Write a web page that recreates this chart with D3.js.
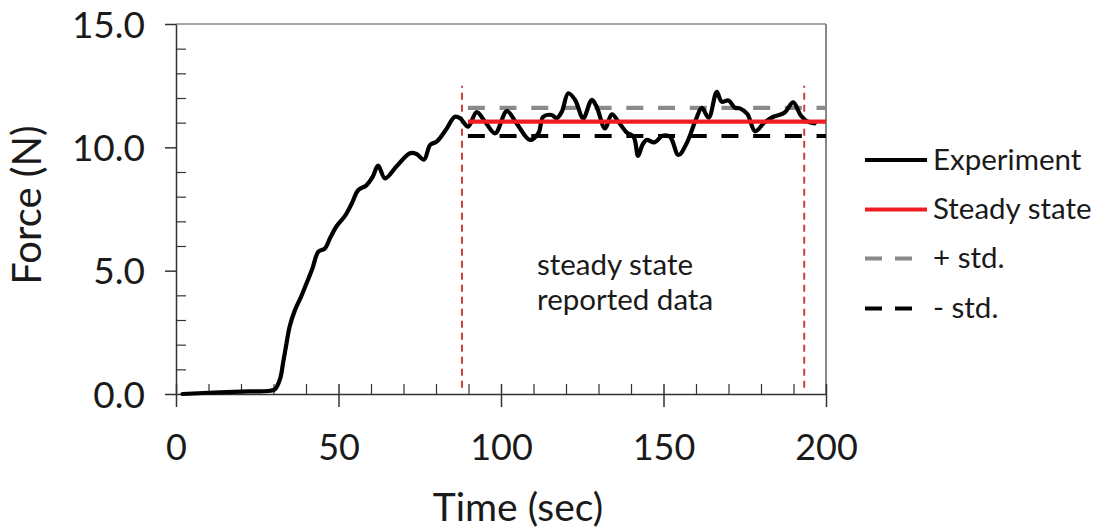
<!DOCTYPE html>
<html>
<head>
<meta charset="utf-8">
<script src="https://cdn.jsdelivr.net/npm/d3@7"></script>
<style>
  html, body { margin: 0; padding: 0; background: #fff; }
  svg { display: block; font-family: Lato, "Open Sans", sans-serif; }
</style>
</head>
<body>
<svg id="chart" width="1102" height="529"></svg>
<script>
// ---- data ----
const timeSec = [2, 10, 20, 29, 30.5, 32, 33, 34, 35, 36.6, 38.5, 40.2, 42, 43.8, 45.8, 47.5, 49.4, 52, 54, 56.1, 58.5, 60.5, 62.2, 64.3, 68, 72, 74, 76.3, 78.2, 80.2, 83, 85.8, 87.4, 89.9, 92.5, 95.1, 98.2, 101.8, 104.8, 108.9, 111.5, 113, 115.6, 117.1, 118.7, 120.7, 122.8, 125.3, 127.9, 129.4, 132, 134.1, 136.1, 138.7, 140.8, 142.2, 143.5, 144.8, 147.2, 149.7, 152, 154.6, 157.1, 159.9, 161.8, 163.9, 166.4, 167.9, 170, 172, 173.5, 175.8, 178.2, 181, 183.8, 187.2, 189.9, 192.2, 194.2, 196.5];
const forceN = [0, 0.05, 0.1, 0.13, 0.2, 0.6, 1.3, 2.05, 2.75, 3.4, 3.95, 4.5, 5.1, 5.77, 5.9, 6.35, 6.8, 7.22, 7.7, 8.27, 8.45, 8.8, 9.26, 8.74, 9.25, 9.76, 9.73, 9.5, 10.1, 10.23, 10.7, 11.24, 11.18, 10.84, 11.43, 11.04, 10.57, 11.47, 10.97, 10.3, 10.57, 11.24, 11.31, 11.18, 11.44, 12.19, 11.92, 11.18, 11.92, 11.65, 10.77, 11.34, 11.04, 10.6, 10.43, 9.65, 10.1, 10.3, 10.2, 10.47, 10.43, 9.69, 10.16, 11.1, 11.6, 11.2, 12.25, 11.85, 11.9, 11.6, 11.58, 11.35, 10.65, 11.0, 11.24, 11.4, 11.82, 11.3, 11.05, 10.97];

const steadyRange = [89.8, 200];
const steadyMean = 11.04;
const stdPlus = 11.6;
const stdMinus = 10.46;
const windowBounds = [88, 193.3];
const windowSpan = [0.25, 12.5];

const xMajorTicks = [0, 50, 100, 150, 200];
const xMinorTicks = [10, 20, 30, 40, 60, 70, 80, 90, 110, 120, 130, 140, 160, 170, 180, 190];
const yMajorTicks = [0, 5, 10, 15];
const yMinorTicks = [1, 2, 3, 4, 6, 7, 8, 9, 11, 12, 13, 14];

const legendLabels = ["Experiment", "Steady state", "+ std.", "- std."];
const annotationLines = ["steady state", "reported data"];

// ---- layout ----
const svg = d3.select("#chart");
const x = d3.scaleLinear().domain([0, 200]).range([176, 826]);
const y = d3.scaleLinear().domain([0, 15]).range([394, 24]);
const TXT = "#1a1a1a";

// plot frame (top/right gray)
svg.append("line").attr("x1", x(0)).attr("x2", x(200)).attr("y1", y(15)).attr("y2", y(15))
  .attr("stroke", "#878787").attr("stroke-width", 1.5);
svg.append("line").attr("x1", x(200)).attr("x2", x(200)).attr("y1", y(15)).attr("y2", y(0))
  .attr("stroke", "#878787").attr("stroke-width", 2);

// x minor ticks (inside)
const gxMinor = svg.append("g").attr("transform", `translate(0,${y(0)})`)
  .call(d3.axisBottom(x).tickValues(xMinorTicks).tickSize(-10).tickSizeOuter(0).tickFormat(""));
gxMinor.select(".domain").remove();
gxMinor.selectAll("line").attr("stroke", "#333").attr("stroke-width", 1.2);

// x major
const gx = svg.append("g").attr("transform", `translate(0,${y(0)})`)
  .call(d3.axisBottom(x).tickValues(xMajorTicks).tickSize(13).tickSizeOuter(0).tickFormat(d3.format("d")));
gx.select(".domain").attr("stroke", "#333").attr("stroke-width", 1.5);
gx.selectAll(".tick line").attr("y1", -10).attr("stroke", "#333").attr("stroke-width", 1.5);
gx.selectAll(".tick text").attr("y", 66).attr("dy", null)
  .attr("font-size", 36).attr("fill", TXT).attr("font-family", "Lato, 'Open Sans', sans-serif");

// y minor
const gyMinor = svg.append("g").attr("transform", `translate(${x(0)},0)`)
  .call(d3.axisLeft(y).tickValues(yMinorTicks).tickSize(-10).tickSizeOuter(0).tickFormat(""));
gyMinor.select(".domain").remove();
gyMinor.selectAll("line").attr("stroke", "#333").attr("stroke-width", 1.2);

// y major
const gy = svg.append("g").attr("transform", `translate(${x(0)},0)`)
  .call(d3.axisLeft(y).tickValues(yMajorTicks).tickSize(11).tickSizeOuter(0).tickFormat(d3.format(".1f")));
gy.select(".domain").attr("stroke", "#333").attr("stroke-width", 1.5);
gy.selectAll(".tick line").attr("stroke", "#333").attr("stroke-width", 1.5);
gy.selectAll(".tick text").attr("x", -31).attr("dy", "0.36em")
  .attr("font-size", 37).attr("fill", TXT).attr("font-family", "Lato, 'Open Sans', sans-serif");

// axis titles
svg.append("text").attr("x", 518).attr("y", 521).attr("text-anchor", "middle")
  .attr("font-size", 39).attr("fill", TXT).text("Time (sec)");
svg.append("text").attr("transform", "translate(41,205) rotate(-90)").attr("text-anchor", "middle")
  .attr("font-size", 40).attr("fill", TXT).text("Force (N)");

// steady-state window bounds
windowBounds.forEach(t => {
  svg.append("line").attr("x1", x(t)).attr("x2", x(t))
    .attr("y1", y(windowSpan[0])).attr("y2", y(windowSpan[1]))
    .attr("stroke", "#c9403e").attr("stroke-width", 2).attr("stroke-dasharray", "7,5");
});

// std lines
const hline = (v, color, dash) => svg.append("line")
  .attr("x1", x(steadyRange[0])).attr("x2", x(steadyRange[1]))
  .attr("y1", y(v)).attr("y2", y(v))
  .attr("stroke", color).attr("stroke-width", 4.2)
  .attr("stroke-dasharray", dash);
hline(stdPlus, "#8a8a8a", "17,14.7");
hline(stdMinus, "#000", "17,14.7");

// experiment curve
const pts = timeSec.map((t, i) => [t, forceN[i]]);
const line = d3.line().x(d => x(d[0])).y(d => y(d[1])).curve(d3.curveCatmullRom.alpha(0.5));
svg.append("path").datum(pts).attr("d", line)
  .attr("fill", "none").attr("stroke", "#000").attr("stroke-width", 4.2)
  .attr("stroke-linejoin", "round").attr("stroke-linecap", "round");

// steady state mean
hline(steadyMean, "#f01c24", null);

// annotation
svg.append("text").attr("x", 537).attr("y", 275).attr("font-size", 29.5).attr("fill", TXT)
  .selectAll("tspan").data(annotationLines).join("tspan")
  .attr("x", 537).attr("dy", (d, i) => i === 0 ? 0 : 35).text(d => d);

// legend
const legendStyles = [
  { color: "#000", dash: null, end: 927 },
  { color: "#f01c24", dash: null, end: 927 },
  { color: "#8a8a8a", dash: "17,13", end: 912 },
  { color: "#000", dash: "17,13", end: 912 }
];
const legendY = [160, 209.5, 258.5, 308.5];
const lg = svg.append("g");
legendLabels.forEach((lab, i) => {
  lg.append("line").attr("x1", 865).attr("x2", legendStyles[i].end)
    .attr("y1", legendY[i]).attr("y2", legendY[i])
    .attr("stroke", legendStyles[i].color).attr("stroke-width", 4.2)
    .attr("stroke-dasharray", legendStyles[i].dash);
  lg.append("text").attr("x", 933).attr("y", legendY[i] + 9.5)
    .attr("font-size", 29.5).attr("fill", TXT).text(lab);
});
</script>
</body>
</html>
